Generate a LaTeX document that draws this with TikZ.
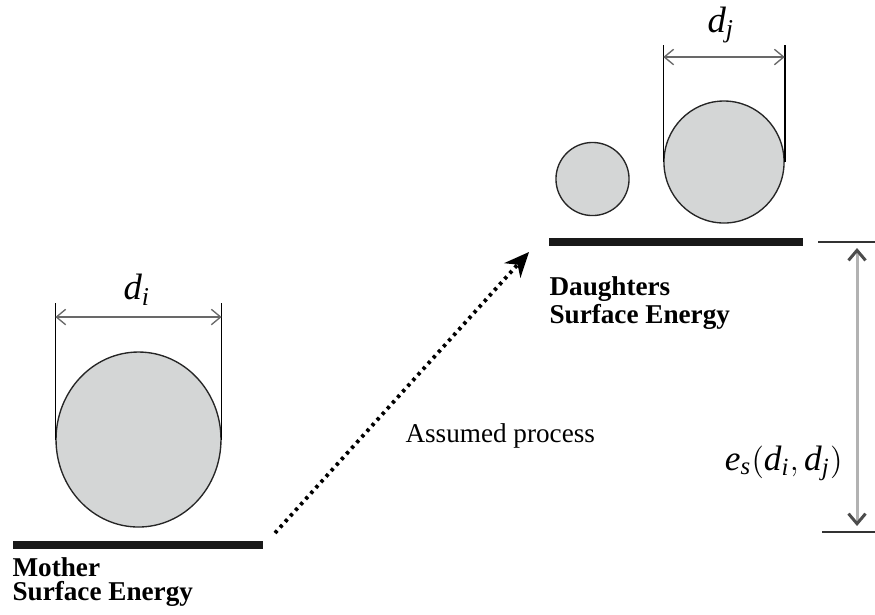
\documentclass[tikz,border=0pt]{standalone}
\usepackage{fontspec}
\setmainfont{Liberation Serif}
\usetikzlibrary{arrows.meta,positioning,shapes.geometric}
\definecolor{dropfill}{RGB}{212,214,214}
\definecolor{dimgray}{RGB}{105,105,105}
\definecolor{gapgray}{RGB}{178,178,178}

\begin{document}
\begin{tikzpicture}[
  x=0.368pt, y=-0.368pt,
  drop/.style={draw=black!85, fill=dropfill, line width=0.5pt, ellipse, inner sep=0pt},
  level/.style={line width=2.8pt, black!90},
  ext/.style={line width=0.55pt, black},
  tick/.style={line width=0.55pt, black!80},
  dimarr/.style={{Straight Barb[length=1.2mm,width=2mm]}-{Straight Barb[length=1.2mm,width=2mm]}, dimgray, line width=0.5pt},
  gaparr/.style={{Straight Barb[length=1.3mm,width=2.2mm,color=black!70]}-{Straight Barb[length=1.3mm,width=2.2mm,color=black!70]}, gapgray, line width=1.1pt},
  procarr/.style={-{Stealth[length=3.2mm,width=2.8mm,inset=1mm]}, line width=1.4pt, dash pattern=on 1.2pt off 1.6pt},
  lbl/.style={font=\fontsize{10}{9}\selectfont\bfseries, align=left, inner sep=0pt},
  txt/.style={font=\fontsize{10}{11}\selectfont, inner sep=0pt},
  sym/.style={font=\fontsize{13}{15}\selectfont, inner sep=0pt}
]
\useasboundingbox (0,0) rectangle (875,614);

% mother drop on its level
\coordinate (mbarL) at (13,545);
\coordinate (mbarR) at (263,545);
\draw[level] (mbarL) -- (mbarR);
\node[drop, minimum width=60.7pt, minimum height=64.4pt] (mdrop) at (138.5,439.5) {};
\draw[ext] (mdrop.west) -- ++(0,-137) coordinate (mL);
\draw[ext] (mdrop.east) -- ++(0,-137) coordinate (mR);
\draw[dimarr] (mL |- 0,317) -- (mR |- 0,317);
\node[sym, font=\fontsize{13.5}{15}\selectfont] (di) at (137,290) {$\mathit{d}_{\mathit{i}}$};
\node[lbl, anchor=north west] (mlbl) at (12,557) {Mother\\Surface Energy};

% daughter drops on their level
\coordinate (dbarL) at (549,242);
\coordinate (dbarR) at (803,242);
\draw[level, line width=3.1pt] (dbarL) -- (dbarR);
\node[drop, minimum size=26.9pt] (sdrop) at (592.5,179) {};
\node[drop, minimum width=44.2pt, minimum height=44.9pt] (bdrop) at (724,162) {};
\draw[ext] (bdrop.west) -- ++(0,-117) coordinate (bL);
\draw[ext] (bdrop.east) -- ++(0,-117) coordinate (bR);
\draw[dimarr] (bL |- 0,57) -- (bR |- 0,57);
\node[sym, font=\fontsize{13.5}{15}\selectfont] (dj) at (721,25) {$\mathit{d}_{\mathit{j}}$};
\node[lbl, anchor=north west] (dlbl) at (549,276) {Daughters\\Surface Energy};

% assumed process
\coordinate (procS) at (275,533);
\coordinate (procE) at (529,252);
\draw[procarr] (procS) -- (procE);
\node[txt, anchor=base west] (proc) at (405,442) {Assumed process};

% surface energy gap
\coordinate (topT) at (818,242);
\coordinate (botT) at (822,532);
\draw[tick] (topT) -- (875,242);
\draw[tick] (botT) -- (875,532);
\draw[gaparr] (857,248) coordinate (gapT) -- (857,526) coordinate (gapB);
\node[sym, anchor=base east] (es) at (843,470) {$\mathit{e}_{\mathit{s}}(\mathit{d}_{\mathit{i}},\mathit{d}_{\mathit{j}})$};
\end{tikzpicture}
\end{document}
